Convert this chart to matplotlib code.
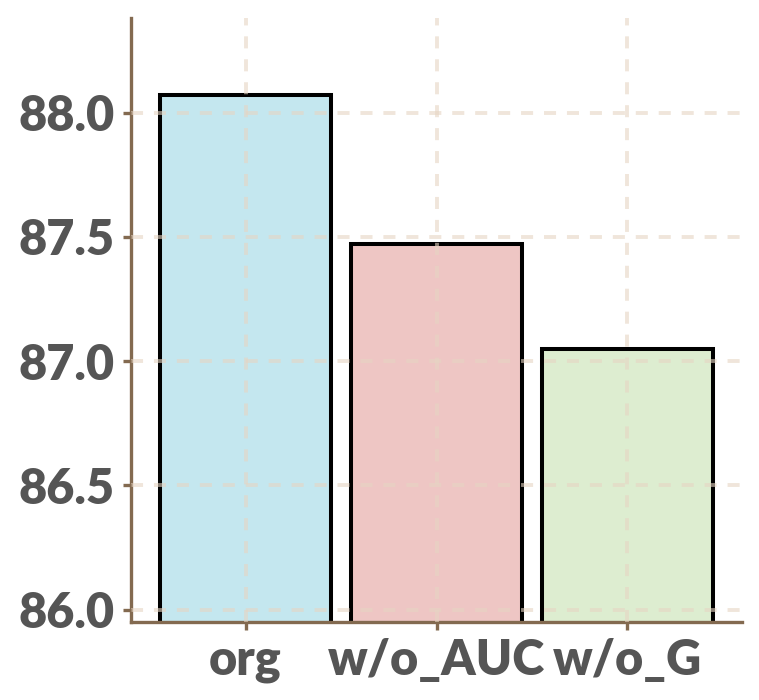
import matplotlib
matplotlib.use("Agg")
import matplotlib.pyplot as plt

categories = ["org", "w/o_AUC", "w/o_G"]
values = [88.07, 87.47, 87.05]
colors = ["#C4E7EF", "#EEC6C4", "#DDEDD0"]
yticks = [86.0, 86.5, 87.0, 87.5, 88.0]

plt.rcParams['font.family'] = ['Lato', 'DejaVu Sans']

fig = plt.figure(figsize=(7.59, 7.00), dpi=100)
ax = fig.add_axes([0.1726, 0.1114, 0.805, 0.8626])

x = list(range(len(categories)))
ax.bar(x, values, width=0.9, color=colors, edgecolor="black", linewidth=2.9, zorder=2)

ax.set_ylim(85.95, 88.38)
ax.set_xlim(-0.6, 2.6)
ax.set_yticks(yticks)
ax.set_yticklabels([f"{v:.1f}" for v in yticks])
ax.set_xticks(x)
ax.set_xticklabels(categories)

spine_color = "#836A50"
for s in ["top", "right"]:
    ax.spines[s].set_visible(False)
for s in ["left", "bottom"]:
    ax.spines[s].set_color(spine_color)
    ax.spines[s].set_linewidth(2.4)

ax.tick_params(axis="both", direction="out", length=5.5, width=2.4, color=spine_color,
               labelsize=35, labelcolor="#555555", pad=6)
for lab in ax.get_xticklabels() + ax.get_yticklabels():
    lab.set_fontweight("heavy")

ax.grid(True, linestyle=(0, (3.1, 2.8)), color="#E6D5C3", linewidth=2.8, zorder=3, alpha=0.6)
ax.set_axisbelow(False)

fig.savefig("out.png", dpi=100)
